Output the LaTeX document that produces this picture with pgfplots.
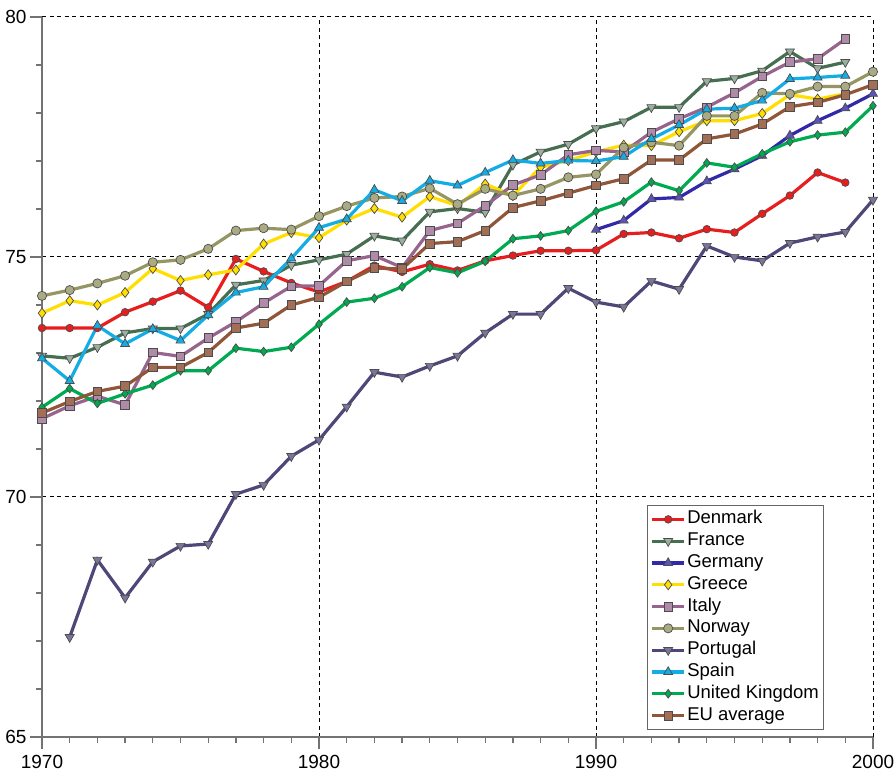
\documentclass[border=0pt]{standalone}
\usepackage{fontspec}
\setmainfont{Liberation Sans}
\usepackage{pgfplots}
\pgfplotsset{compat=1.18}
\definecolor{cDK}{RGB}{232,30,30}
\definecolor{cFR}{RGB}{70,110,80}
\definecolor{cDE}{RGB}{50,40,170}
\definecolor{cGR}{RGB}{255,222,0}
\definecolor{cIT}{RGB}{150,100,140}
\definecolor{cNO}{RGB}{150,150,100}
\definecolor{cPT}{RGB}{80,70,120}
\definecolor{cES}{RGB}{20,172,228}
\definecolor{cUK}{RGB}{0,170,80}
\definecolor{cEU}{RGB}{145,85,55}
\begin{document}
\begin{tikzpicture}
\begin{axis}[
  scale only axis, width=831pt, height=720pt,
  xmin=1970, xmax=2000, ymin=65, ymax=80,
  axis x line*=bottom, axis y line*=left,
  axis line style={black!55, line width=1.6pt, -},
  xtick={1970,1980,1990,2000}, ytick={65,70,75,80},
  minor x tick num=9, minor y tick num=4,
  tick align=outside, major tick length=12pt, minor tick length=6pt,
  tick style={black!55, line width=1.3pt},
  grid=major, major grid style={black, dash pattern=on 4pt off 3.5pt, line width=1pt},
  /pgf/number format/1000 sep={},
  /pgf/number format/assume math mode=true,
  ticklabel style={font=\fontsize{19}{22}\selectfont},
  xticklabel shift=3pt,
  every axis plot/.append style={line width=3.2pt},
  legend cell align=left,
  legend style={at={(rel axis cs:0.941,0.0097)}, anchor=south east,
    draw=black!60, line width=1.1pt, font=\fontsize{18.5}{21}\selectfont,
    inner sep=3pt, row sep=0pt,
    nodes={inner sep=1.5pt, text height=14pt, text depth=4.8pt}},
  legend image code/.code={\draw[mark repeat=2,mark phase=2] plot coordinates {(0pt,0pt) (16pt,0pt) (32pt,0pt)};},
]
\addplot[cDK, mark=*, mark size=3.8pt, mark options={draw=black!70, fill=cDK, line width=0.7pt}] coordinates {
(1970,73.52)(1971,73.52)(1972,73.52)(1973,73.85)(1974,74.07)(1975,74.30)(1976,73.95)(1977,74.96)(1978,74.70)(1979,74.46)
(1980,74.27)(1981,74.49)(1982,74.82)(1983,74.69)(1984,74.85)(1985,74.72)(1986,74.92)(1987,75.03)(1988,75.13)(1989,75.13)
(1990,75.14)(1991,75.48)(1992,75.51)(1993,75.39)(1994,75.58)(1995,75.51)(1996,75.90)(1997,76.28)(1998,76.76)(1999,76.55)};
\addlegendentry{Denmark}
\addplot[cFR, mark=triangle*, mark size=5.2pt, mark options={rotate=180, draw=black!70, fill=cFR!55!white, line width=0.7pt}] coordinates {
(1970,72.94)(1971,72.89)(1972,73.12)(1973,73.42)(1974,73.51)(1975,73.51)(1976,73.81)(1977,74.42)(1978,74.51)(1979,74.83)
(1980,74.94)(1981,75.06)(1982,75.44)(1983,75.34)(1984,75.94)(1985,76.01)(1986,75.93)(1987,76.92)(1988,77.19)(1989,77.35)
(1990,77.68)(1991,77.82)(1992,78.12)(1993,78.12)(1994,78.66)(1995,78.72)(1996,78.88)(1997,79.28)(1998,78.93)(1999,79.06)};
\addlegendentry{France}
\addplot[cDE, mark=triangle*, mark size=5.2pt, mark options={draw=black!70, fill=cDE!80!white, line width=0.7pt}] coordinates {
(1990,75.57)(1991,75.76)(1992,76.21)(1993,76.24)(1994,76.58)(1995,76.83)(1996,77.11)(1997,77.53)(1998,77.84)(1999,78.10)(2000,78.40)};
\addlegendentry{Germany}
\addplot[cGR, mark=diamond*, mark size=5pt, mark options={draw=black!70, fill=cGR, line width=0.7pt}] coordinates {
(1970,73.83)(1971,74.09)(1972,74.00)(1973,74.26)(1974,74.76)(1975,74.51)(1976,74.63)(1977,74.73)(1978,75.27)(1979,75.51)
(1980,75.40)(1981,75.77)(1982,76.01)(1983,75.83)(1984,76.26)(1985,76.07)(1986,76.52)(1987,76.28)(1988,76.87)(1989,77.01)
(1990,77.19)(1991,77.33)(1992,77.32)(1993,77.61)(1994,77.84)(1995,77.84)(1996,77.99)(1997,78.38)(1998,78.29)(1999,78.40)};
\addlegendentry{Greece}
\addplot[cIT, mark=square*, mark size=4.3pt, mark options={draw=black!70, fill=cIT!75!white, line width=0.7pt}] coordinates {
(1970,71.63)(1971,71.90)(1972,72.10)(1973,71.92)(1974,73.01)(1975,72.93)(1976,73.31)(1977,73.65)(1978,74.04)(1979,74.39)
(1980,74.40)(1981,74.92)(1982,75.03)(1983,74.78)(1984,75.55)(1985,75.70)(1986,76.07)(1987,76.50)(1988,76.71)(1989,77.13)
(1990,77.22)(1991,77.19)(1992,77.60)(1993,77.88)(1994,78.12)(1995,78.42)(1996,78.76)(1997,79.06)(1998,79.13)(1999,79.54)};
\addlegendentry{Italy}
\addplot[cNO, mark=*, mark size=4.6pt, mark options={draw=black!70, fill=cNO!80!white, line width=0.7pt}] coordinates {
(1970,74.19)(1971,74.31)(1972,74.45)(1973,74.61)(1974,74.89)(1975,74.94)(1976,75.17)(1977,75.55)(1978,75.60)(1979,75.57)
(1980,75.85)(1981,76.06)(1982,76.23)(1983,76.26)(1984,76.43)(1985,76.10)(1986,76.42)(1987,76.28)(1988,76.42)(1989,76.66)
(1990,76.72)(1991,77.28)(1992,77.39)(1993,77.32)(1994,77.94)(1995,77.94)(1996,78.42)(1997,78.40)(1998,78.55)(1999,78.55)(2000,78.86)};
\addlegendentry{Norway}
\addplot[cPT, mark=triangle*, mark size=5.2pt, mark options={rotate=180, draw=black!70, fill=cPT!75!white, line width=0.7pt}] coordinates {
(1971,67.08)(1972,68.69)(1973,67.90)(1974,68.65)(1975,68.98)(1976,69.02)(1977,70.06)(1978,70.25)(1979,70.85)
(1980,71.19)(1981,71.88)(1982,72.60)(1983,72.50)(1984,72.73)(1985,72.94)(1986,73.42)(1987,73.81)(1988,73.81)(1989,74.35)
(1990,74.06)(1991,73.96)(1992,74.50)(1993,74.33)(1994,75.23)(1995,75.00)(1996,74.92)(1997,75.29)(1998,75.42)(1999,75.52)(2000,76.19)};
\addlegendentry{Portugal}
\addplot[cES, mark=triangle*, mark size=5.2pt, mark options={draw=black!70, fill=cES, line width=0.7pt}] coordinates {
(1970,72.89)(1971,72.42)(1972,73.57)(1973,73.19)(1974,73.50)(1975,73.26)(1976,73.79)(1977,74.26)(1978,74.38)(1979,74.97)
(1980,75.61)(1981,75.79)(1982,76.40)(1983,76.17)(1984,76.59)(1985,76.49)(1986,76.76)(1987,77.02)(1988,76.95)(1989,77.01)
(1990,77.00)(1991,77.09)(1992,77.46)(1993,77.75)(1994,78.08)(1995,78.10)(1996,78.26)(1997,78.71)(1998,78.74)(1999,78.78)};
\addlegendentry{Spain}
\addplot[cUK, mark=diamond*, mark size=4.4pt, mark options={draw=black!70, fill=cUK, line width=0.7pt}] coordinates {
(1970,71.87)(1971,72.26)(1972,71.95)(1973,72.15)(1974,72.33)(1975,72.63)(1976,72.63)(1977,73.10)(1978,73.03)(1979,73.12)
(1980,73.60)(1981,74.06)(1982,74.14)(1983,74.38)(1984,74.78)(1985,74.67)(1986,74.91)(1987,75.38)(1988,75.44)(1989,75.55)
(1990,75.95)(1991,76.15)(1992,76.56)(1993,76.38)(1994,76.96)(1995,76.87)(1996,77.15)(1997,77.40)(1998,77.54)(1999,77.60)(2000,78.15)};
\addlegendentry{United Kingdom}
\addplot[cEU, mark=square*, mark size=4.3pt, mark options={draw=black!70, fill=cEU!85!white, line width=0.7pt}] coordinates {
(1970,71.75)(1971,71.99)(1972,72.20)(1973,72.31)(1974,72.70)(1975,72.70)(1976,73.01)(1977,73.52)(1978,73.62)(1979,74.00)
(1980,74.16)(1981,74.49)(1982,74.77)(1983,74.75)(1984,75.28)(1985,75.32)(1986,75.55)(1987,76.03)(1988,76.17)(1989,76.33)
(1990,76.49)(1991,76.63)(1992,77.02)(1993,77.02)(1994,77.46)(1995,77.56)(1996,77.77)(1997,78.13)(1998,78.22)(1999,78.38)(2000,78.59)};
\addlegendentry{EU average}
\end{axis}
\pgfresetboundingbox
\path[use as bounding box] ([shift={(-42pt,-37pt)}]current axis.south west) rectangle ([shift={(21pt,17pt)}]current axis.north east);
\end{tikzpicture}
\end{document}
